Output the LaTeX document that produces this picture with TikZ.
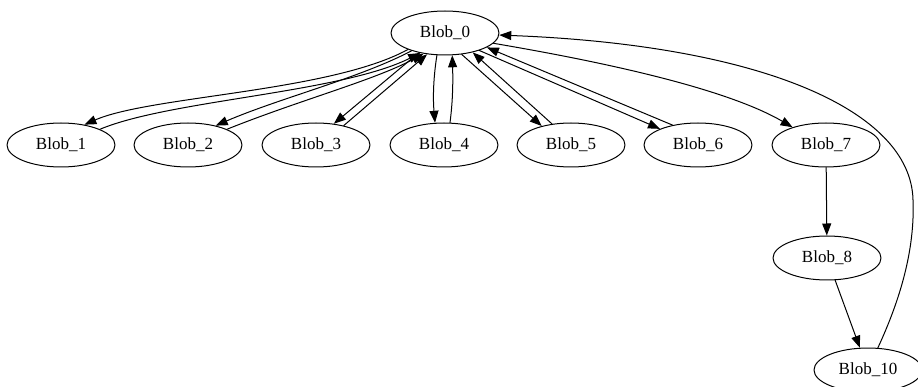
\documentclass[tikz,border=0pt]{standalone}
\usepackage{fontspec}
\setmainfont{Liberation Serif}
\usetikzlibrary{shapes.geometric,arrows.meta}
\begin{document}
\begin{tikzpicture}[x=1pt, y=-1pt, line cap=round, line join=round, >={Triangle[length=12pt,width=9pt]}, line width=1pt,
	blob/.style={draw, ellipse, minimum width=108pt, minimum height=44pt, inner sep=0pt, font=\fontsize{17}{20}\selectfont}]
	\useasboundingbox (0,0) rectangle (918,387);
	\node[blob] (b0) at (445,33) {Blob\_0};
	\node[blob] (b1) at (61,145) {Blob\_1};
	\node[blob] (b2) at (188,145) {Blob\_2};
	\node[blob] (b3) at (316,145) {Blob\_3};
	\node[blob] (b4) at (444,145) {Blob\_4};
	\node[blob] (b5) at (571,145) {Blob\_5};
	\node[blob] (b6) at (698,145) {Blob\_6};
	\node[blob] (b7) at (826,145) {Blob\_7};
	\node[blob] (b8) at (827,258) {Blob\_8};
	\node[blob] (b10) at (868,370) {Blob\_10};
	% to and from Blob_0
	\draw[->] (b0.204) .. controls (330,92) and (150,96) .. (b1.41);
	\draw[->] (b1.22) .. controls (170,100) and (340,93) .. (b0.219);
	\draw[->] (b0.208) .. controls (360,78) and (280,98) .. (b2.35);
	\draw[->] (b2.22) .. controls (300,100) and (375,80) .. (b0.224);
	\draw[->] (b0.217) -- (b3.50);
	\draw[->] (b3.35) -- (b0.230);
	\draw[->] (b0.250) .. controls (433,80) and (433,100) .. (b4.112);
	\draw[->] (b4.75) .. controls (453,100) and (453,80) .. (b0.288);
	\draw[->] (b0.308) -- (b5.147);
	\draw[->] (b5.132) -- (b0.325);
	\draw[->] (b0.333) -- (b6.157);
	\draw[->] (b6.142) -- (b0.341);
	\draw[->] (b0.348) .. controls (580,58) and (720,85) .. (b7.152);
	% chain on the right
	\draw[->] (b7) -- (b8);
	\draw[->] (b8) -- (b10);
	\draw[->] (b10.66) .. controls (900,300) and (915,250) .. (913,200) .. controls (911,110) and (760,45) .. (b0);
\end{tikzpicture}
\end{document}
